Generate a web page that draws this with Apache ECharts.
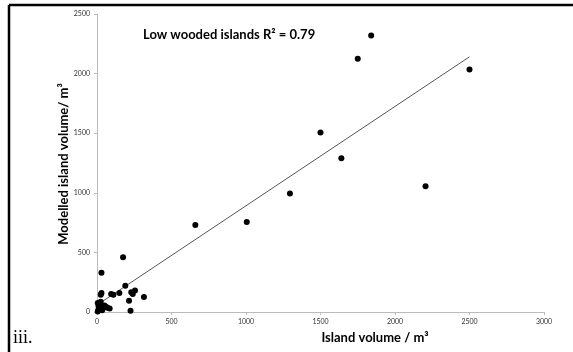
<!DOCTYPE html>
<html>
<head>
<meta charset="utf-8">
<script src="https://cdn.jsdelivr.net/npm/echarts@6/dist/echarts.min.js"></script>
<style>
  html, body { margin: 0; padding: 0; background: #fff; }
  #chart { width: 573px; height: 352px; }
</style>
</head>
<body>
<div id="chart"></div>
<script>
// island volume (x) vs modelled volume (y), m3
const islandVolume = [5, 10, 15, 25, 30, 25, 30, 45, 60, 85, 70, 95, 110, 150, 175, 190, 215, 225, 230, 240, 255, 315, 20, 10, 5, 35, 50, 660, 1005, 1295, 1500, 1640, 1750, 1840, 2205, 2500]
const modelledVolume = [5, 20, 70, 85, 160, 145, 330, 40, 45, 30, 35, 150, 145, 160, 460, 220, 95, 10, 165, 150, 180, 125, 30, 50, 75, 15, 55, 730, 755, 995, 1505, 1290, 2125, 2320, 1055, 2035]

// linear trend line end points
const trendX = [0, 2500]
const trendY = [58, 2141]

const xTicks = [0, 500, 1000, 1500, 2000, 2500, 3000]
const yTicks = [0, 500, 1000, 1500, 2000, 2500]

const chart = echarts.init(document.getElementById('chart'))

const points = islandVolume.map((x, i) => [x, modelledVolume[i]])
const trend = trendX.map((x, i) => [x, trendY[i]])

const font = 'Lato, "Open Sans", sans-serif'
const axisLabel = { fontSize: 7, color: '#333', fontFamily: 'Lato', formatter: v => String(v) }

chart.setOption({
  animation: false,
  grid: { left: 97, right: 29, top: 14, bottom: 40 },
  xAxis: {
    type: 'value',
    min: xTicks[0],
    max: xTicks[xTicks.length - 1],
    interval: 500,
    splitLine: { show: false },
    axisLine: { lineStyle: { color: '#bbb' } },
    axisTick: { show: true, length: 3, lineStyle: { color: '#bbb' } },
    axisLabel: Object.assign({ margin: 6 }, axisLabel)
  },
  yAxis: {
    type: 'value',
    min: yTicks[0],
    max: yTicks[yTicks.length - 1],
    interval: 500,
    splitLine: { show: false },
    axisLine: { show: true, lineStyle: { color: '#bbb' } },
    axisTick: { show: true, length: 3, lineStyle: { color: '#bbb' } },
    axisLabel: Object.assign({ margin: 7 }, axisLabel)
  },
  series: [
    {
      type: 'line',
      data: trend,
      symbol: 'none',
      lineStyle: { color: '#555', width: 1 },
      z: 1
    },
    {
      type: 'scatter',
      data: points,
      symbolSize: 6,
      itemStyle: { color: '#000', opacity: 1 },
      z: 2
    }
  ],
  graphic: [
    // frame lines top and left
    { type: 'line', shape: { x1: 9, y1: 5, x2: 573, y2: 5 }, style: { stroke: '#000', lineWidth: 2.5 } },
    { type: 'line', shape: { x1: 9, y1: 5, x2: 9, y2: 352 }, style: { stroke: '#000', lineWidth: 2.5 } },
    {
      type: 'text', left: 143, top: 28,
      style: { text: 'Low wooded islands R² = 0.79', font: 'bold 13px ' + font, fill: '#000' }
    },
    {
      type: 'text', x: 375, y: 338,
      style: { text: 'Island volume / m³', font: 'bold 13px ' + font, fill: '#000', align: 'center', verticalAlign: 'middle' }
    },
    {
      type: 'text', x: 64, y: 164, rotation: Math.PI / 2,
      style: { text: 'Modelled island volume/ m³', font: 'bold 13px ' + font, fill: '#000', align: 'center', verticalAlign: 'middle' }
    },
    {
      type: 'text', left: 13, top: 329,
      style: { text: 'iii.', font: '18px "Liberation Serif", "DejaVu Serif", serif', fill: '#000' }
    }
  ]
})
</script>
</body>
</html>
